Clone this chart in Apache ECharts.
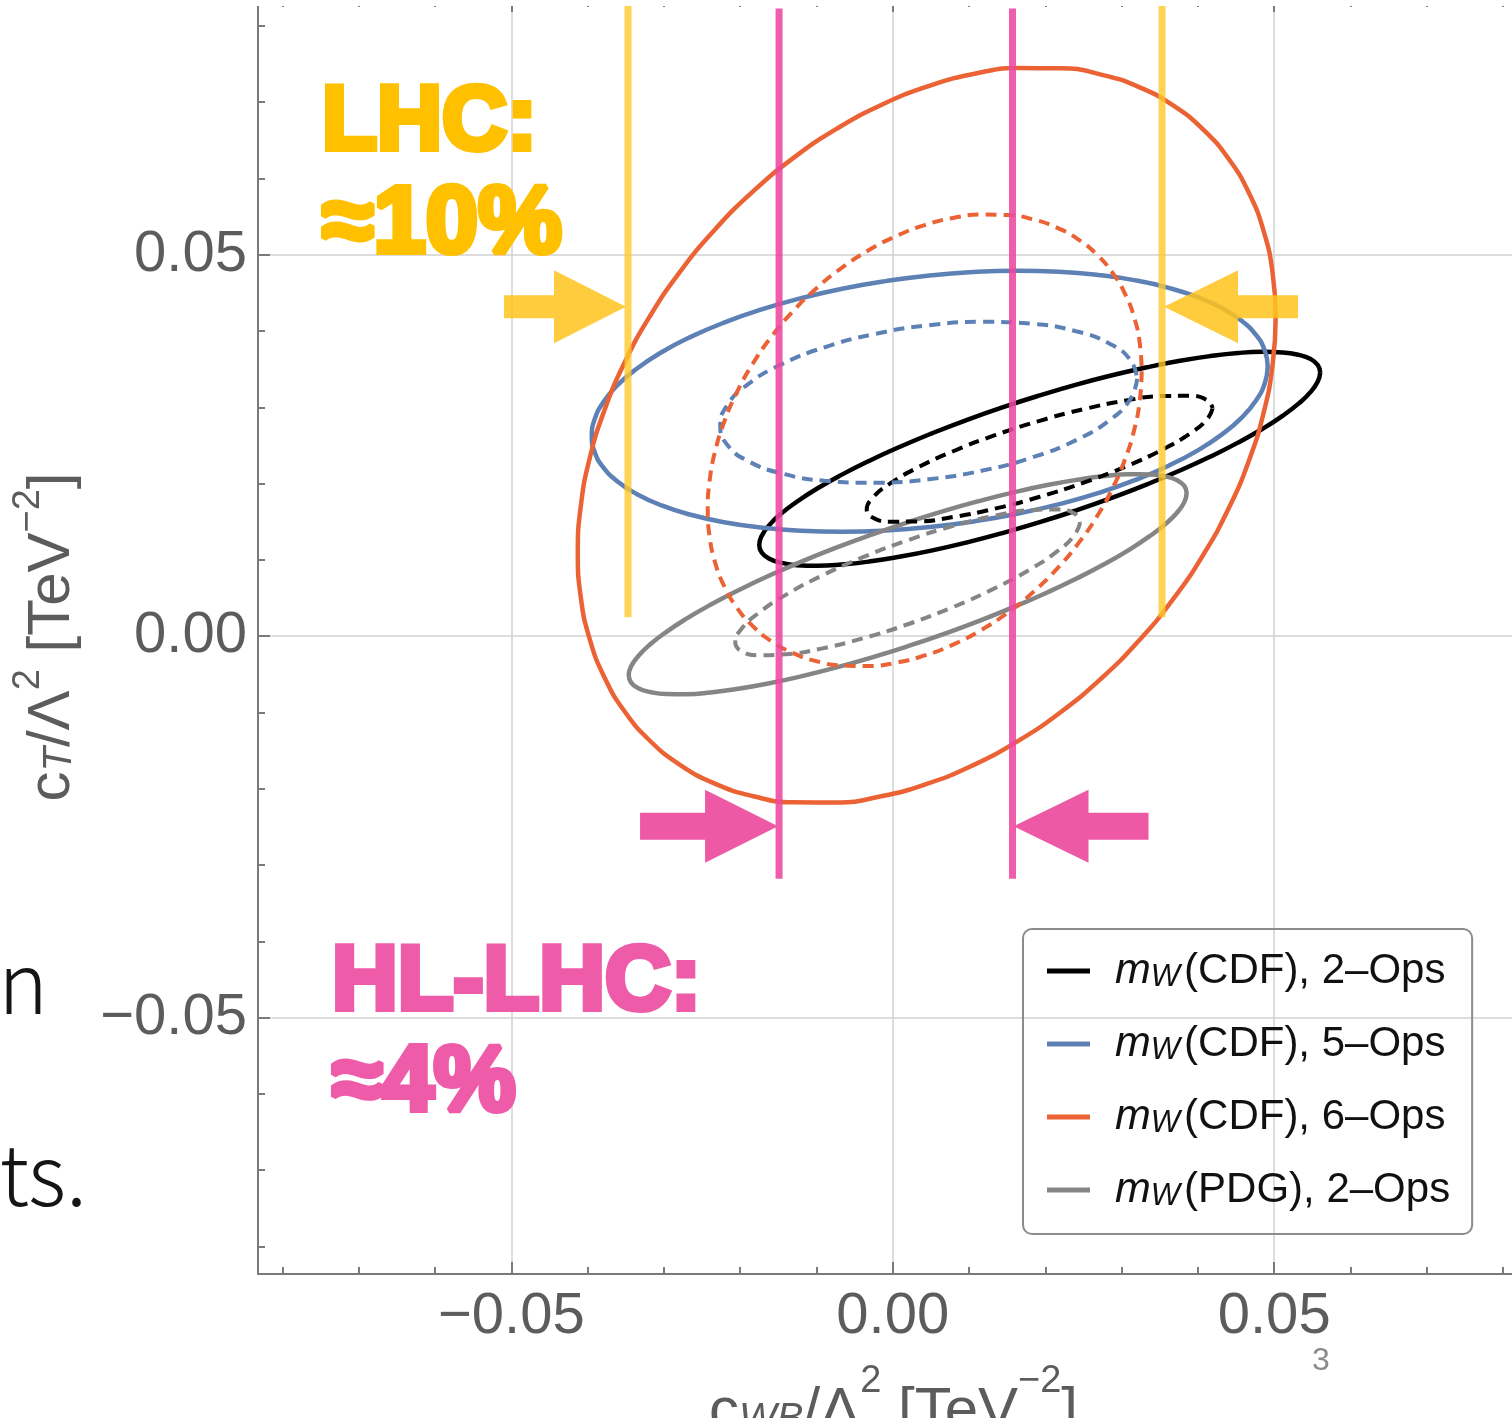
<!DOCTYPE html>
<html>
<head>
<meta charset="utf-8">
<script src="https://cdn.jsdelivr.net/npm/echarts@6/dist/echarts.min.js"></script>
<style>
  html, body { margin: 0; padding: 0; background: #fff; }
  #main { width: 1512px; height: 1418px; }
</style>
</head>
<body>
<div id="main"></div>
<script>
// contours, [cWB, cT] in TeV^-2, going round each ellipse
const cdf2Solid = [[0.05603,0.03456],[0.05571,0.03338],[0.05478,0.03203],[0.05323,0.03052],[0.05110,0.02889],[0.04843,0.02717],[0.04526,0.02538],[0.04165,0.02355],[0.03765,0.02172],[0.03333,0.01991],[0.02878,0.01816],[0.02407,0.01650],[0.01927,0.01495],[0.01447,0.01355],[0.00975,0.01231],[0.00520,0.01126],[0.00088,0.01042],[-0.00311,0.00979],[-0.00673,0.00940],[-0.00990,0.00924],[-0.01257,0.00932],[-0.01470,0.00965],[-0.01624,0.01020],[-0.01718,0.01098],[-0.01750,0.01197],[-0.01718,0.01315],[-0.01624,0.01450],[-0.01470,0.01601],[-0.01257,0.01763],[-0.00990,0.01936],[-0.00673,0.02115],[-0.00311,0.02298],[0.00088,0.02481],[0.00520,0.02662],[0.00975,0.02837],[0.01447,0.03003],[0.01927,0.03157],[0.02407,0.03298],[0.02878,0.03421],[0.03333,0.03526],[0.03765,0.03611],[0.04165,0.03673],[0.04526,0.03713],[0.04843,0.03728],[0.05110,0.03720],[0.05323,0.03688],[0.05478,0.03633],[0.05571,0.03555]];
const cdf2Dashed = [[0.04194,0.02991],[0.04117,0.02839],[0.03890,0.02653],[0.03530,0.02444],[0.03060,0.02227],[0.02513,0.02017],[0.01927,0.01828],[0.01340,0.01673],[0.00793,0.01563],[0.00323,0.01504],[-0.00037,0.01502],[-0.00264,0.01556],[-0.00341,0.01662],[-0.00264,0.01813],[-0.00037,0.02000],[0.00323,0.02209],[0.00793,0.02425],[0.01340,0.02635],[0.01927,0.02824],[0.02513,0.02979],[0.03060,0.03090],[0.03530,0.03148],[0.03890,0.03151],[0.04117,0.03097]];
const cdf5Solid = [[0.04915,0.03535],[0.04877,0.03316],[0.04764,0.03093],[0.04578,0.02869],[0.04321,0.02649],[0.03999,0.02437],[0.03617,0.02236],[0.03182,0.02049],[0.02700,0.01879],[0.02180,0.01731],[0.01631,0.01605],[0.01063,0.01505],[0.00485,0.01431],[-0.00093,0.01386],[-0.00662,0.01370],[-0.01210,0.01383],[-0.01730,0.01425],[-0.02212,0.01495],[-0.02648,0.01592],[-0.03030,0.01715],[-0.03352,0.01862],[-0.03608,0.02029],[-0.03794,0.02214],[-0.03907,0.02414],[-0.03945,0.02625],[-0.03907,0.02844],[-0.03794,0.03067],[-0.03608,0.03291],[-0.03352,0.03510],[-0.03030,0.03723],[-0.02648,0.03924],[-0.02212,0.04111],[-0.01730,0.04280],[-0.01210,0.04429],[-0.00662,0.04555],[-0.00093,0.04655],[0.00485,0.04729],[0.01063,0.04774],[0.01631,0.04790],[0.02180,0.04777],[0.02700,0.04735],[0.03182,0.04665],[0.03617,0.04567],[0.03999,0.04444],[0.04321,0.04298],[0.04578,0.04131],[0.04764,0.03946],[0.04877,0.03746]];
const cdf5Dashed = [[0.03204,0.03375],[0.03111,0.03103],[0.02838,0.02829],[0.02404,0.02571],[0.01838,0.02347],[0.01179,0.02172],[0.00472,0.02058],[-0.00235,0.02012],[-0.00895,0.02039],[-0.01460,0.02135],[-0.01895,0.02296],[-0.02168,0.02508],[-0.02261,0.02759],[-0.02168,0.03031],[-0.01895,0.03305],[-0.01460,0.03563],[-0.00895,0.03787],[-0.00235,0.03962],[0.00472,0.04076],[0.01179,0.04121],[0.01838,0.04095],[0.02404,0.03998],[0.02838,0.03838],[0.03111,0.03626]];
const cdf6Solid = [[0.05020,0.04174],[0.04980,0.03565],[0.04864,0.02939],[0.04671,0.02308],[0.04407,0.01683],[0.04074,0.01074],[0.03680,0.00492],[0.03230,-0.00054],[0.02733,-0.00554],[0.02196,-0.00999],[0.01629,-0.01381],[0.01043,-0.01696],[0.00446,-0.01936],[-0.00151,-0.02098],[-0.00738,-0.02179],[-0.01305,-0.02177],[-0.01841,-0.02094],[-0.02339,-0.01929],[-0.02789,-0.01686],[-0.03183,-0.01370],[-0.03516,-0.00984],[-0.03780,-0.00537],[-0.03973,-0.00036],[-0.04089,0.00511],[-0.04128,0.01094],[-0.04089,0.01704],[-0.03973,0.02330],[-0.03780,0.02960],[-0.03516,0.03586],[-0.03183,0.04195],[-0.02789,0.04777],[-0.02339,0.05323],[-0.01841,0.05822],[-0.01305,0.06267],[-0.00738,0.06650],[-0.00151,0.06964],[0.00446,0.07204],[0.01043,0.07366],[0.01629,0.07447],[0.02196,0.07446],[0.02733,0.07362],[0.03230,0.07198],[0.03680,0.06955],[0.04074,0.06638],[0.04407,0.06253],[0.04671,0.05806],[0.04864,0.05305],[0.04980,0.04758]];
const cdf6Dashed = [[0.03263,0.03473],[0.03239,0.03097],[0.03167,0.02712],[0.03047,0.02325],[0.02882,0.01942],[0.02676,0.01569],[0.02430,0.01214],[0.02151,0.00882],[0.01841,0.00579],[0.01508,0.00309],[0.01155,0.00079],[0.00791,-0.00110],[0.00419,-0.00252],[0.00048,-0.00346],[-0.00317,-0.00390],[-0.00669,-0.00383],[-0.01003,-0.00326],[-0.01312,-0.00219],[-0.01592,-0.00065],[-0.01837,0.00135],[-0.02044,0.00376],[-0.02208,0.00654],[-0.02328,0.00965],[-0.02400,0.01304],[-0.02425,0.01665],[-0.02400,0.02040],[-0.02328,0.02425],[-0.02208,0.02813],[-0.02044,0.03196],[-0.01837,0.03568],[-0.01592,0.03924],[-0.01312,0.04256],[-0.01003,0.04559],[-0.00669,0.04828],[-0.00317,0.05059],[0.00048,0.05247],[0.00419,0.05389],[0.00791,0.05483],[0.01155,0.05527],[0.01508,0.05521],[0.01841,0.05464],[0.02151,0.05357],[0.02430,0.05203],[0.02676,0.05003],[0.02882,0.04762],[0.03047,0.04484],[0.03167,0.04172],[0.03239,0.03834]];
const pdg2Solid = [[0.03853,0.01874],[0.03822,0.01758],[0.03729,0.01623],[0.03575,0.01472],[0.03363,0.01308],[0.03098,0.01133],[0.02782,0.00950],[0.02423,0.00763],[0.02025,0.00574],[0.01596,0.00387],[0.01143,0.00205],[0.00674,0.00032],[0.00197,-0.00131],[-0.00281,-0.00280],[-0.00750,-0.00412],[-0.01203,-0.00526],[-0.01632,-0.00619],[-0.02029,-0.00689],[-0.02389,-0.00737],[-0.02704,-0.00759],[-0.02970,-0.00758],[-0.03182,-0.00731],[-0.03335,-0.00681],[-0.03429,-0.00607],[-0.03460,-0.00511],[-0.03429,-0.00395],[-0.03335,-0.00260],[-0.03182,-0.00109],[-0.02970,0.00055],[-0.02704,0.00230],[-0.02389,0.00413],[-0.02029,0.00600],[-0.01632,0.00789],[-0.01203,0.00976],[-0.00750,0.01158],[-0.00281,0.01331],[0.00197,0.01494],[0.00674,0.01643],[0.01143,0.01775],[0.01596,0.01889],[0.02025,0.01982],[0.02423,0.02052],[0.02782,0.02100],[0.03098,0.02122],[0.03363,0.02121],[0.03575,0.02094],[0.03729,0.02044],[0.03822,0.01970]];
const pdg2Dashed = [[0.02457,0.01493],[0.02380,0.01324],[0.02155,0.01112],[0.01795,0.00874],[0.01327,0.00624],[0.00782,0.00379],[0.00197,0.00157],[-0.00389,-0.00027],[-0.00934,-0.00162],[-0.01402,-0.00237],[-0.01761,-0.00248],[-0.01987,-0.00193],[-0.02064,-0.00077],[-0.01987,0.00092],[-0.01761,0.00303],[-0.01402,0.00542],[-0.00934,0.00792],[-0.00389,0.01036],[0.00197,0.01258],[0.00782,0.01443],[0.01327,0.01577],[0.01795,0.01652],[0.02155,0.01663],[0.02380,0.01609]];

// projected bounds on cWB (vertical lines) and their vertical extent
const lhcBounds = [-0.0347, 0.0353];
const lhcSpan = [0.0025, 0.0834];
const hlBounds = [-0.0149, 0.0157];
const hlSpan = [-0.0318, 0.0823];
const arrowLevels = { lhc: 0.0432, hl: -0.0249 };

const majorTicks = [-0.05, 0, 0.05];
const minorTicks = [-0.08, -0.07, -0.06, -0.04, -0.03, -0.02, -0.01, 0.01, 0.02, 0.03, 0.04, 0.06, 0.07, 0.08];

const seriesNames = ['CDF2', 'CDF5', 'CDF6', 'PDG2'];
const legendLabels = {
  CDF2: '(CDF), 2\u2013Ops',
  CDF5: '(CDF), 5\u2013Ops',
  CDF6: '(CDF), 6\u2013Ops',
  PDG2: '(PDG), 2\u2013Ops'
};
const colors = { CDF2: '#000000', CDF5: '#5E81B5', CDF6: '#EB6235', PDG2: '#858585' };

const XMIN = -0.0832, XMAX = 0.0834, YMIN = -0.0836, YMAX = 0.0834;
const FONT = '"Liberation Sans", Arial, sans-serif';
const AXIS_GRAY = '#7a7a7a';
const TEXT_GRAY = '#5c5c5c';

function fmt(v) {
  return (v < 0 ? '\u2212' : '') + Math.abs(v).toFixed(2);
}

function contour(name, pts, dashed) {
  return {
    name: name,
    type: 'line',
    data: pts.concat([pts[0]]),
    smooth: 0.5,
    symbol: 'none',
    lineStyle: { color: colors[name], width: dashed ? 4 : 4.5, type: dashed ? [11, 7] : 'solid' },
    itemStyle: { color: colors[name] },
    z: 3
  };
}

function bound(x, span, color, width) {
  return {
    type: 'line',
    data: [[x, span[0]], [x, span[1]]],
    symbol: 'none',
    lineStyle: { color: color, width: width },
    z: 5,
    silent: true
  };
}

function tickAxis(pos, values, len, main) {
  return {
    type: 'value',
    position: pos,
    axisLine: { show: !!main, onZero: false, lineStyle: { color: AXIS_GRAY, width: 2 } },
    axisTick: { show: true, inside: true, length: len, customValues: values, lineStyle: { color: AXIS_GRAY, width: 2 } },
    axisLabel: { show: false },
    splitLine: { show: false }
  };
}

// sup sits at the top of a tall line, sub is nudged down from the middle
function nameRich(lh) {
  return {
    b: { fontSize: 60, color: TEXT_GRAY, fontFamily: FONT, lineHeight: lh },
    sub: { fontSize: 40, color: TEXT_GRAY, fontFamily: FONT, fontStyle: 'italic', verticalAlign: 'middle', padding: [16, 0, 0, 0] },
    sup: { fontSize: 38, color: TEXT_GRAY, fontFamily: FONT, lineHeight: 40, verticalAlign: 'top' }
  };
}

const labelStyle = { fontSize: 58, color: TEXT_GRAY, fontFamily: FONT };

const xMain = tickAxis('bottom', majorTicks, 12, true);
Object.assign(xMain, {
  splitNumber: 3,
  axisLabel: { show: true, customValues: majorTicks, formatter: fmt, margin: 14, ...labelStyle },
  splitLine: { show: true, lineStyle: { color: '#d2d2d2', width: 1.5 } },
  name: '{b|c}{sub|WB}{b|/\u039b}{sup|2}{b| [TeV}{sup|\u22122}{b|]}',
  nameLocation: 'middle', nameGap: 89,
  nameTextStyle: { rich: nameRich(98) }
});
const yMain = tickAxis('left', majorTicks, 12, true);
Object.assign(yMain, {
  splitNumber: 3,
  axisLabel: { show: true, customValues: majorTicks, formatter: fmt, margin: 11, ...labelStyle },
  splitLine: { show: true, lineStyle: { color: '#d2d2d2', width: 1.5 } },
  name: '{b|c}{sub|T}{b|/\u039b}{sup|2}{b| [TeV}{sup|\u22122}{b|]}',
  nameLocation: 'middle', nameGap: 164,
  nameTextStyle: { rich: nameRich(84) }
});

const xAxes = [xMain, tickAxis('bottom', minorTicks, 7), tickAxis('top', majorTicks, 12), tickAxis('top', minorTicks, 7)];
const yAxes = [yMain, tickAxis('left', minorTicks, 7)];
xAxes.forEach(a => { a.min = XMIN; a.max = XMAX; });
yAxes.forEach(a => { a.min = YMIN; a.max = YMAX; });

const series = [
  contour('CDF2', cdf2Solid, false),
  contour('CDF5', cdf5Solid, false),
  contour('CDF6', cdf6Solid, false),
  contour('PDG2', pdg2Solid, false),
  contour('CDF2', cdf2Dashed, true),
  contour('CDF5', cdf5Dashed, true),
  contour('CDF6', cdf6Dashed, true),
  contour('PDG2', pdg2Dashed, true),
  bound(lhcBounds[0], lhcSpan, 'rgba(255,200,40,0.8)', 7),
  bound(lhcBounds[1], lhcSpan, 'rgba(255,200,40,0.8)', 7),
  bound(hlBounds[0], hlSpan, 'rgba(236,72,158,0.88)', 7),
  bound(hlBounds[1], hlSpan, 'rgba(236,72,158,0.88)', 7)
];

const option = {
  animation: false,
  backgroundColor: '#ffffff',
  grid: { left: 258, top: 0, width: 1271, height: 1274, outerBoundsMode: 'none', containLabel: false },
  xAxis: xAxes,
  yAxis: yAxes,
  legend: {
    data: seriesNames,
    orient: 'vertical',
    left: 1023, top: 929,
    padding: [20, 22, 22, 24],
    itemGap: 29,
    itemWidth: 43, itemHeight: 5,
    icon: 'rect',
    borderColor: '#8c8c8c', borderWidth: 2, borderRadius: 9,
    selectedMode: false,
    formatter: n => '{m|m}{w|W}{t|' + legendLabels[n] + '}',
    textStyle: {
      fontFamily: FONT, fontSize: 42, color: '#111', lineHeight: 44,
      padding: [0, 0, 0, 20],
      rich: {
        m: { fontFamily: FONT, fontSize: 43, fontStyle: 'italic', color: '#111', lineHeight: 44 },
        w: { fontFamily: FONT, fontSize: 31, fontStyle: 'italic', color: '#111', lineHeight: 30, verticalAlign: 'bottom' },
        t: { fontFamily: FONT, fontSize: 42, color: '#111', lineHeight: 44, padding: [0, 0, 0, 4] }
      }
    }
  },
  series: series
};

const chart = echarts.init(document.getElementById('main'));
chart.setOption(option);

function arrow(tipX, y, dir, head, shaft, sh, color) {
  const hb = tipX - dir * head, se = hb - dir * shaft, hh = 36.5;
  return {
    type: 'polygon', z: 50, silent: true,
    shape: { points: [[tipX, y], [hb, y - hh], [hb, y - sh], [se, y - sh], [se, y + sh], [hb, y + sh], [hb, y + hh]] },
    style: { fill: color }
  };
}

const px = v => chart.convertToPixel({ xAxisIndex: 0 }, v);
const py = v => chart.convertToPixel({ yAxisIndex: 0 }, v);
const yellowArrow = 'rgba(255,196,30,0.86)';
const pinkArrow = 'rgba(236,80,160,0.95)';
const lhcY = py(arrowLevels.lhc), hlY = py(arrowLevels.hl);

function bigText(txt, x, y, color, size) {
  return {
    type: 'text', z: 60, silent: true,
    style: {
      text: txt, x: x, y: y, fill: color, stroke: color, lineWidth: 6,
      font: 'bold ' + size + 'px ' + FONT, verticalAlign: 'middle', align: 'left'
    }
  };
}

const slideFont = '300 84px "Noto Sans CJK SC", "Noto Sans", sans-serif';

chart.setOption({
  graphic: [
    { type: 'rect', z: 100, silent: true, shape: { x: 0, y: 0, width: 1512, height: 6 }, style: { fill: '#fff' } },
    arrow(px(lhcBounds[0]) - 2, lhcY, 1, 72, 50, 11.5, yellowArrow),
    arrow(px(lhcBounds[1]) + 2, lhcY, -1, 74, 60, 11.5, yellowArrow),
    arrow(px(hlBounds[0]) - 1, hlY, 1, 73, 65, 13.5, pinkArrow),
    arrow(px(hlBounds[1]) + 1, hlY, -1, 75, 60, 13.5, pinkArrow),
    bigText('LHC:', 322, 124, '#FFC000', 90),
    bigText('\u224810%', 322, 226, '#FFC000', 94),
    bigText('HL-LHC:', 332, 984, '#EE5BA8', 91),
    bigText('\u22484%', 332, 1085, '#EE5BA8', 92),
    { type: 'text', z: 60, silent: true, style: { text: 'an', x: 48, y: 1024, align: 'right', verticalAlign: 'bottom', fill: '#151515', font: slideFont } },
    { type: 'text', z: 60, silent: true, style: { text: 'nts.', x: 87, y: 1216, align: 'right', verticalAlign: 'bottom', fill: '#151515', font: slideFont } },
    { type: 'text', z: 60, silent: true, style: { text: '3', x: 1321, y: 1361, align: 'center', verticalAlign: 'middle', fill: '#8a8a8a', font: '32px ' + FONT } }
  ]
});
</script>
</body>
</html>
